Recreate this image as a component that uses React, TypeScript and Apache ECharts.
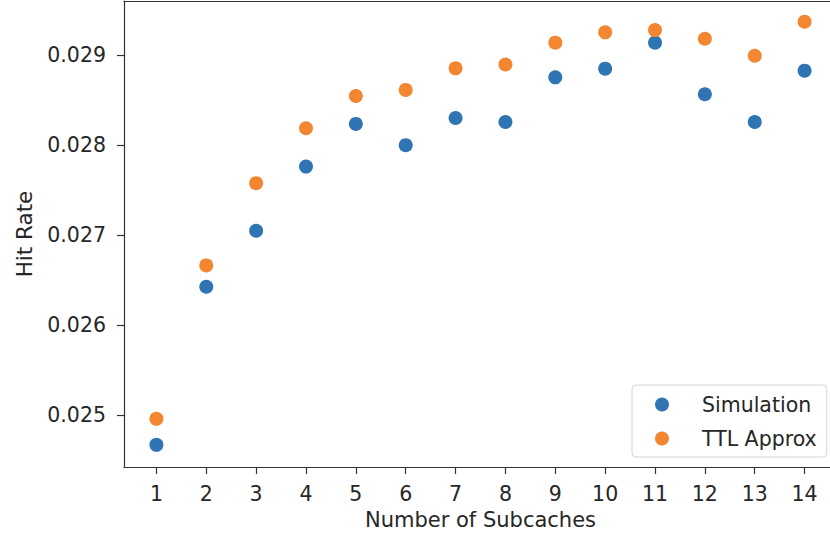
import React, { useEffect, useRef } from "react";
import * as echarts from "echarts";

const subcaches = [1, 2, 3, 4, 5, 6, 7, 8, 9, 10, 11, 12, 13, 14];
const simulation = [0.024668, 0.026425, 0.027047, 0.02776, 0.028234, 0.027998, 0.0283, 0.028256, 0.028752, 0.028848, 0.029137, 0.028564, 0.028256, 0.028826];
const ttlApprox = [0.024957, 0.026662, 0.027576, 0.028186, 0.028545, 0.028612, 0.028852, 0.028895, 0.029137, 0.029252, 0.029277, 0.029181, 0.028992, 0.02937];
const xTicks = [1, 2, 3, 4, 5, 6, 7, 8, 9, 10, 11, 12, 13, 14];
const yTicks = [0.025, 0.026, 0.027, 0.028, 0.029];

const FONT = "DejaVu Sans";
const TEXT = "#262626";
const SPINE = "#333333";

export default function App() {
  const ref = useRef<HTMLDivElement>(null);
  useEffect(() => {
    if (!ref.current) return;
    const chart = echarts.init(ref.current, undefined, { renderer: "svg" });
    chart.setOption({
      animation: false,
      backgroundColor: "#ffffff",
      textStyle: { fontFamily: FONT },
      grid: {
        left: 124,
        top: 1,
        width: 713,
        height: 466,
        outerBoundsMode: "none",
        containLabel: false,
        show: false,
      },
      legend: {
        orient: "vertical",
        left: 632,
        top: 385,
        padding: [9, 10, 8, 23],
        itemGap: 13,
        itemWidth: 28,
        itemHeight: 14,
        icon: "circle",
        borderColor: "#d4d4d4",
        borderWidth: 1,
        borderRadius: 4,
        backgroundColor: "rgba(255,255,255,0.8)",
        textStyle: {
          fontFamily: FONT,
          fontSize: 20.5,
          color: TEXT,
          lineHeight: 20,
          padding: [0, 0, 0, 21],
        },
        data: ["Simulation", "TTL Approx"],
      },
      xAxis: [
        {
          type: "value",
          min: 0.35,
          max: 14.65,
          name: "Number of Subcaches",
          nameLocation: "middle",
          nameGap: 42,
          nameTextStyle: { fontFamily: FONT, fontSize: 21, color: TEXT },
          axisLine: { show: true, lineStyle: { color: SPINE, width: 1.2 } },
          axisTick: { show: true, length: 7, customValues: xTicks, lineStyle: { color: SPINE, width: 1.2 } },
          axisLabel: {
            customValues: xTicks,
            fontFamily: FONT,
            fontSize: 20.5,
            color: TEXT,
            margin: 16,
          },
          splitLine: { show: false },
        },
        {
          type: "value",
          position: "top",
          min: 0.35,
          max: 14.65,
          axisLine: { show: true, onZero: false, lineStyle: { color: SPINE, width: 1.2 } },
          axisTick: { show: false },
          axisLabel: { show: false },
          splitLine: { show: false },
        },
      ],
      yAxis: {
        type: "value",
        min: 0.024422,
        max: 0.0296,
        name: "Hit Rate",
        nameLocation: "middle",
        nameRotate: 90,
        nameGap: 89,
        nameTextStyle: { fontFamily: FONT, fontSize: 21.5, color: TEXT },
        axisLine: { show: true, lineStyle: { color: SPINE, width: 1.2 } },
        axisTick: { show: true, length: 7, customValues: yTicks, lineStyle: { color: SPINE, width: 1.2 } },
        axisLabel: {
          customValues: yTicks,
          fontFamily: FONT,
          fontSize: 20.5,
          color: TEXT,
          margin: 18,
          formatter: (v: number) => v.toFixed(3),
        },
        splitLine: { show: false },
      },
      series: [
        {
          name: "Simulation",
          type: "scatter",
          symbolSize: 14,
          itemStyle: { color: "#2f74b3", opacity: 1 },
          data: subcaches.map((x, i) => [x, simulation[i]]),
        },
        {
          name: "TTL Approx",
          type: "scatter",
          symbolSize: 14,
          itemStyle: { color: "#f28631", opacity: 1 },
          data: subcaches.map((x, i) => [x, ttlApprox[i]]),
        },
      ],
    });
    return () => chart.dispose();
  }, []);
  return <div ref={ref} style={{ width: 830, height: 537, position: "absolute", left: 0, top: 0 }} />;
}
